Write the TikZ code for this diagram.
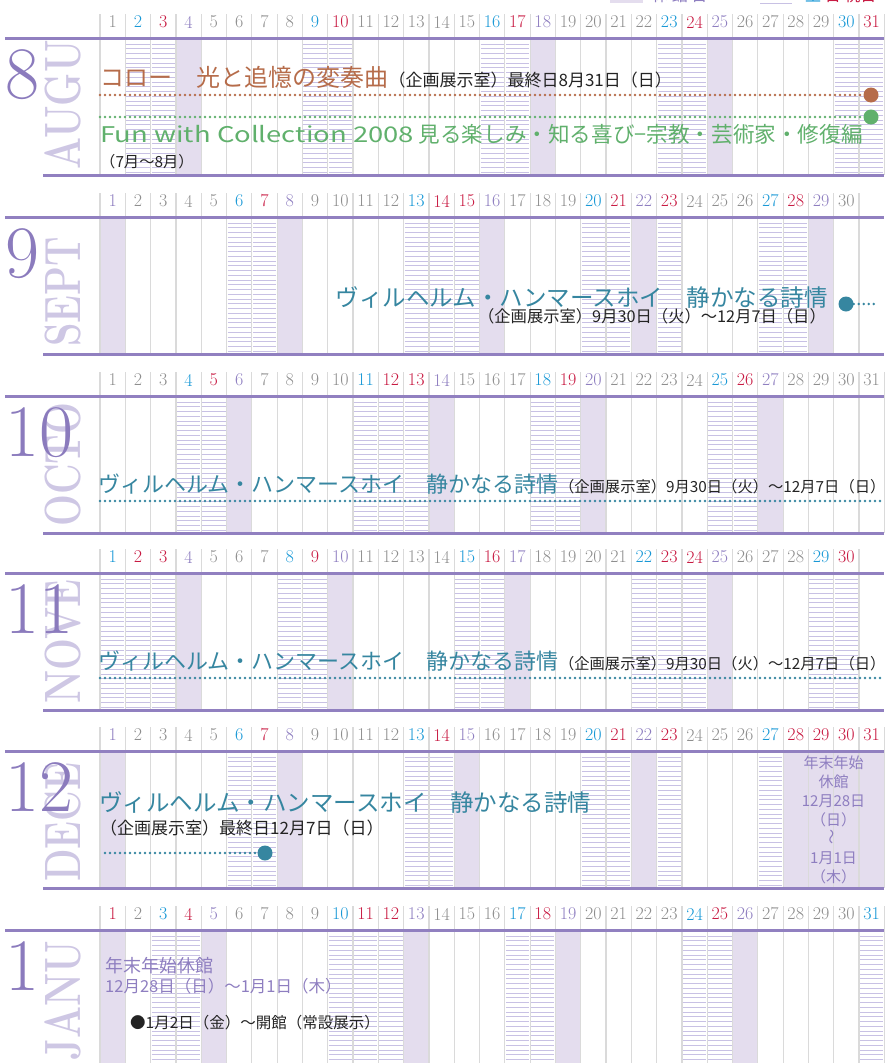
\documentclass[tikz,border=0pt]{standalone}
\usepackage{fontspec}
\newfontfamily\jpfont{Noto Sans CJK JP}
\usetikzlibrary{positioning}
\usepackage{xcolor}
\definecolor{rulepurple}{RGB}{145,128,192}
\definecolor{monthpurple}{RGB}{139,123,189}
\definecolor{wordpurple}{RGB}{206,199,228}
\definecolor{closedfill}{RGB}{228,221,238}
\definecolor{stripeline}{RGB}{200,193,228}
\definecolor{sepgray}{RGB}{218,218,218}
\definecolor{numgray}{RGB}{142,142,142}
\definecolor{satblue}{RGB}{24,152,214}
\definecolor{sunred}{RGB}{200,26,66}
\definecolor{closedpurple}{RGB}{142,126,192}
\definecolor{corotbrown}{RGB}{182,108,74}
\definecolor{fungreen}{RGB}{96,176,108}
\definecolor{hammerteal}{RGB}{54,134,160}
\definecolor{notegray}{RGB}{35,35,35}
\tikzset{daynum/.style={inner sep=0pt, font=\fontsize{18}{18}\selectfont},
monthnum/.style={anchor=base west, inner sep=0pt, text=monthpurple, font=\fontsize{74}{74}\selectfont},
monthword/.style={anchor=base west, inner sep=0pt, rotate=90, text=wordpurple, font=\fontsize{51}{51}\selectfont\bfseries}}
% column helpers
\newcommand{\stripecol}[2]{% day, top
  \foreach \s in {0,...,27} {
    \draw[stripeline, line width=0.9pt] ({100+(#1-1)*25.3+1}, {#2+6+\s*4.75}) -- ({100+#1*25.3-1}, {#2+6+\s*4.75});
  }}
\newcommand{\closedcol}[2]{% day, top
  \fill[closedfill] ({100+(#1-1)*25.3}, #2) rectangle ({100+#1*25.3}, {#2+137});}
\newcommand{\monthframe}[2]{% top, days
  \foreach \k in {0,...,#2} {
    \draw[sepgray, line width=1.2pt] ({100+\k*25.3}, {#1-24}) -- ({100+\k*25.3}, {#1+137});
  }
  \draw[rulepurple, line width=3pt] (5, #1) -- (884, #1);
  \draw[rulepurple, line width=3pt] (43, {#1+137}) -- (884, {#1+137});}

\begin{document}
\begin{tikzpicture}[x=1pt, y=-1pt,
        title/.style={anchor=base west, inner sep=0pt, font=\jpfont\fontsize{22}{22}\selectfont},
        note/.style={anchor=base west, inner sep=0pt, text=notegray, font=\jpfont\fontsize{15.3}{15.3}\selectfont},
        dotline/.style={line width=2.6pt, line cap=round, dash pattern=on 0pt off 5pt},
        enddot/.style={circle, inner sep=0pt, minimum size=15pt}
    ]
        \useasboundingbox (0, 0) rectangle (884, 1063);
        % Legend (cut by the page edge)
        \fill[closedfill] (610, -14) rectangle (643, 3);
        \node[anchor=base west, inner sep=0pt, text=closedpurple, font=\jpfont\fontsize{16}{16}\selectfont] (legclosed) at (652, 1) {休\ 館\ 日};
        \draw[stripeline, line width=1pt] (760, -1) -- (792, -1);
        \draw[stripeline, line width=1pt] (760, 3) -- (792, 3);
        \node[anchor=base west, inner sep=0pt, font=\jpfont\fontsize{16}{16}\selectfont] (legholiday) at (805, 1) {\textcolor{satblue}{土}\ \textcolor{sunred}{日\ 祝日}};
        % Columns: closed days and weekends
        \foreach \d in {4,18,25} {\closedcol{\d}{38}}
        \foreach \d in {2,3,9,10,16,17,23,24,30,31} {\stripecol{\d}{38}}
        \foreach \d in {1,8,16,22,29} {\closedcol{\d}{217}}
        \foreach \d in {6,7,13,14,15,20,21,23,27,28} {\stripecol{\d}{217}}
        \foreach \d in {6,14,20,27} {\closedcol{\d}{396}}
        \foreach \d in {4,5,11,12,13,18,19,25,26} {\stripecol{\d}{396}}
        \foreach \d in {4,10,17,25} {\closedcol{\d}{573}}
        \foreach \d in {1,2,3,8,9,15,16,22,23,24,29,30} {\stripecol{\d}{573}}
        \foreach \d in {1,8,15,22,28,29,30,31} {\closedcol{\d}{751}}
        \foreach \d in {6,7,13,14,20,21,23,27} {\stripecol{\d}{751}}
        \foreach \d in {1,5,13,19,26} {\closedcol{\d}{930}}
        \foreach \d in {3,4,10,11,12,17,18,24,25,31} {\stripecol{\d}{930}}
        % Grid and rules
        \monthframe{38}{31}
        \monthframe{217}{30}
        \monthframe{396}{31}
        \monthframe{573}{30}
        \monthframe{751}{31}
        \monthframe{930}{31}
        % Month names
        \node[monthword] (augword) at (80, 170) {\scalebox{0.74}[1]{AUGU}};
        \node[monthword] (sepword) at (80, 347) {\scalebox{0.74}[1]{SEPT}};
        \node[monthword] (octword) at (80, 527) {\scalebox{0.74}[1]{OCTO}};
        \node[monthword] (novword) at (80, 704) {\scalebox{0.74}[1]{NOVE}};
        \node[monthword] (decword) at (80, 882) {\scalebox{0.74}[1]{DECE}};
        \node[monthword] (janword) at (80, 1061) {\scalebox{0.74}[1]{JANU}};
        \node[monthnum] (aug) at (5, 98) {8};
        \node[monthnum] (sep) at (5, 277) {9};
        \node[monthnum] (oct) at (5, 456) {10};
        \node[monthnum] (nov) at (5, 633) {11};
        \node[monthnum] (dec) at (5, 811) {12};
        \node[monthnum] (jan) at (5, 990) {1};
        % Day numbers
        \foreach \d in {1,5,6,7,8,11,12,13,14,15,19,20,21,22,26,27,28,29} \node[daynum, text=numgray] (aug\d) at ({100+(\d-0.5)*25.3}, 22) {\d};
        \foreach \d in {2,9,16,23,30} \node[daynum, text=satblue] (aug\d) at ({100+(\d-0.5)*25.3}, 22) {\d};
        \foreach \d in {3,10,17,24,31} \node[daynum, text=sunred] (aug\d) at ({100+(\d-0.5)*25.3}, 22) {\d};
        \foreach \d in {4,18,25} \node[daynum, text=closedpurple] (aug\d) at ({100+(\d-0.5)*25.3}, 22) {\d};
        \foreach \d in {2,3,4,5,9,10,11,12,17,18,19,24,25,26,30} \node[daynum, text=numgray] (sep\d) at ({100+(\d-0.5)*25.3}, 201) {\d};
        \foreach \d in {6,13,20,27} \node[daynum, text=satblue] (sep\d) at ({100+(\d-0.5)*25.3}, 201) {\d};
        \foreach \d in {7,14,15,21,23,28} \node[daynum, text=sunred] (sep\d) at ({100+(\d-0.5)*25.3}, 201) {\d};
        \foreach \d in {1,8,16,22,29} \node[daynum, text=closedpurple] (sep\d) at ({100+(\d-0.5)*25.3}, 201) {\d};
        \foreach \d in {1,2,3,7,8,9,10,15,16,17,21,22,23,24,28,29,30,31} \node[daynum, text=numgray] (oct\d) at ({100+(\d-0.5)*25.3}, 380) {\d};
        \foreach \d in {4,11,18,25} \node[daynum, text=satblue] (oct\d) at ({100+(\d-0.5)*25.3}, 380) {\d};
        \foreach \d in {5,12,13,19,26} \node[daynum, text=sunred] (oct\d) at ({100+(\d-0.5)*25.3}, 380) {\d};
        \foreach \d in {6,14,20,27} \node[daynum, text=closedpurple] (oct\d) at ({100+(\d-0.5)*25.3}, 380) {\d};
        \foreach \d in {5,6,7,11,12,13,14,18,19,20,21,26,27,28} \node[daynum, text=numgray] (nov\d) at ({100+(\d-0.5)*25.3}, 557) {\d};
        \foreach \d in {1,8,15,22,29} \node[daynum, text=satblue] (nov\d) at ({100+(\d-0.5)*25.3}, 557) {\d};
        \foreach \d in {2,3,9,16,23,24,30} \node[daynum, text=sunred] (nov\d) at ({100+(\d-0.5)*25.3}, 557) {\d};
        \foreach \d in {4,10,17,25} \node[daynum, text=closedpurple] (nov\d) at ({100+(\d-0.5)*25.3}, 557) {\d};
        \foreach \d in {2,3,4,5,9,10,11,12,16,17,18,19,24,25,26} \node[daynum, text=numgray] (dec\d) at ({100+(\d-0.5)*25.3}, 735) {\d};
        \foreach \d in {6,13,20,27} \node[daynum, text=satblue] (dec\d) at ({100+(\d-0.5)*25.3}, 735) {\d};
        \foreach \d in {7,14,21,23,28,29,30,31} \node[daynum, text=sunred] (dec\d) at ({100+(\d-0.5)*25.3}, 735) {\d};
        \foreach \d in {1,8,15,22} \node[daynum, text=closedpurple] (dec\d) at ({100+(\d-0.5)*25.3}, 735) {\d};
        \foreach \d in {2,6,7,8,9,14,15,16,20,21,22,23,27,28,29,30} \node[daynum, text=numgray] (jan\d) at ({100+(\d-0.5)*25.3}, 914) {\d};
        \foreach \d in {3,10,17,24,31} \node[daynum, text=satblue] (jan\d) at ({100+(\d-0.5)*25.3}, 914) {\d};
        \foreach \d in {1,4,11,12,18,25} \node[daynum, text=sunred] (jan\d) at ({100+(\d-0.5)*25.3}, 914) {\d};
        \foreach \d in {5,13,19,26} \node[daynum, text=closedpurple] (jan\d) at ({100+(\d-0.5)*25.3}, 914) {\d};
        % August exhibitions
        \node[title, text=corotbrown, font=\jpfont\fontsize{24}{24}\selectfont] (corot) at (100, 86) {コロー　光と追憶の変奏曲};
        \node[note, font=\jpfont\fontsize{17}{17}\selectfont] (corotnote) at (corot.base east) {（企画展示室）最終日8月31日（日）};
        \coordinate (corotstart) at (100, 95);
        \node[enddot, fill=corotbrown] (corotend) at (871, 95) {};
        \draw[dotline, corotbrown] (corotstart) -- (corotend);
        \coordinate (funstart) at (100, 117);
        \node[enddot, fill=fungreen] (funend) at (871, 117) {};
        \draw[dotline, fungreen] (funstart) -- (funend);
        \node[title, text=fungreen, font=\jpfont\fontsize{21.6}{21.6}\selectfont] (fun) at (100, 142) {\scalebox{1.27}[1]{Fun with Collection 2008}\ 見る楽しみ・知る喜び−宗教・芸術家・修復編};
        \node[note] (funnote) at (100, 167) {（7月〜8月）};
        % Hammershoi
        \node[title, anchor=base east, text=hammerteal, font=\jpfont\fontsize{23.5}{23.5}\selectfont] (hamsep) at (828, 306) {ヴィルヘルム・ハンマースホイ　静かなる詩情};
        \node[note, anchor=base east, font=\jpfont\fontsize{16.3}{16.3}\selectfont] (hamsepnote) at (826, 322) {（企画展示室）9月30日（火）〜12月7日（日）};
        \node[enddot, fill=hammerteal] (hamstart) at (846, 304) {};
        \coordinate (hamsepend) at (877, 304);
        \draw[dotline, hammerteal] (hamstart) -- (hamsepend);
        \node[title, text=hammerteal] (hamoct) at (98, 492) {ヴィルヘルム・ハンマースホイ　静かなる詩情};
        \node[note] (hamoctnote) at (hamoct.base east) {（企画展示室）9月30日（火）〜12月7日（日）};
        \coordinate (octstart) at (100, 501);
        \coordinate (octend) at (884, 501);
        \draw[dotline, hammerteal] (octstart) -- (octend);
        \node[title, text=hammerteal] (hamnov) at (98, 669) {ヴィルヘルム・ハンマースホイ　静かなる詩情};
        \node[note] (hamnovnote) at (hamnov.base east) {（企画展示室）9月30日（火）〜12月7日（日）};
        \coordinate (novstart) at (100, 678);
        \coordinate (novend) at (884, 678);
        \draw[dotline, hammerteal] (novstart) -- (novend);
        \node[title, text=hammerteal, font=\jpfont\fontsize{23.5}{23.5}\selectfont] (hamdec) at (99, 811) {ヴィルヘルム・ハンマースホイ　静かなる詩情};
        \node[note, font=\jpfont\fontsize{17}{17}\selectfont] (hamdecnote) at (100, 834) {（企画展示室）最終日12月7日（日）};
        \coordinate (decstart) at (105, 853);
        \node[enddot, fill=hammerteal] (hamend) at (265, 853) {};
        \draw[dotline, hammerteal] (decstart) -- (hamend);
        % New year closing
        \node[inner sep=0pt, align=center, text=closedpurple, font=\jpfont\fontsize{15}{19}\selectfont] (yearend) at (833.5, 820) {年末年始\\休館\\12月28日\\（日）\\\rotatebox{90}{〜}\\1月1日\\（木）};
        \node[note, text=closedpurple, font=\jpfont\fontsize{18}{18}\selectfont] (janclosed) at (105, 972) {年末年始休館};
        \node[note, text=closedpurple, font=\jpfont\fontsize{16.5}{16.5}\selectfont] (janclosedate) at (105, 992) {12月28日（日）〜1月1日（木）};
        \node[note, font=\jpfont\fontsize{15.5}{15.5}\selectfont] (janopen) at (130, 1028) {●1月2日（金）〜開館（常設展示）};
    \end{tikzpicture}
\end{document}
